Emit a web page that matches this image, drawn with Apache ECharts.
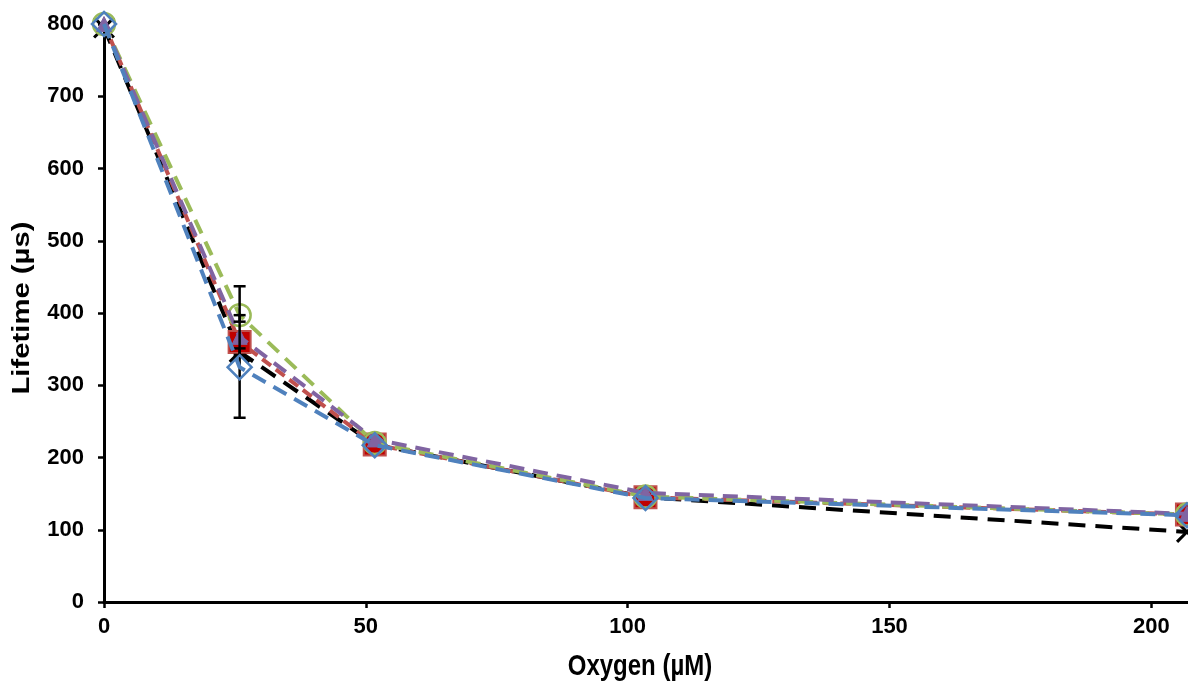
<!DOCTYPE html>
<html>
<head>
<meta charset="utf-8">
<script src="https://cdn.jsdelivr.net/npm/echarts@6/dist/echarts.min.js"></script>
<style>html,body{margin:0;padding:0;background:#fff;}#c{width:1188px;height:685px;}</style>
</head>
<body>
<div id="c"></div>
<script>
const oxygen = [0, 25.9, 51.7, 103.4, 206.8];
const seriesBlack  = [795, 346, 218, 145, 97];
const seriesRed    = [800, 360, 218, 145, 121];
const seriesGreen  = [800, 397, 220, 146, 121];
const seriesPurple = [800, 367, 225, 151, 122];
const seriesBlue   = [800, 325, 217, 144, 120];
// error bars: [x, low, high]
const errorBars = [[25.9, 255, 437], [25.9, 388, 397], [25.9, 342, 351]];
const xTicks = [0, 50, 100, 150, 200];
const xName = 'Oxygen (µM)';
const yName = 'Lifetime (µs)';

const FONT = 'Liberation Sans';
const pair = (ys) => oxygen.map((x, i) => [x, ys[i]]);
const xMark = 'path://M0,1L1,0L5,4L9,0L10,1L6,5L10,9L9,10L5,6L1,10L0,9L4,5Z';

const chart = echarts.init(document.getElementById('c'));
chart.setOption({
  animation: false,
  backgroundColor: '#fff',
  grid: { left: 104, right: 0, top: 24, bottom: 83, containLabel: false },
  graphic: [
    { type: 'text', x: 22, y: 308, rotation: Math.PI / 2, scaleX: 1.22, scaleY: 1,
      style: { text: yName, font: 'bold 24px "Liberation Sans"', fill: '#000', align: 'center', verticalAlign: 'middle' } },
    { type: 'text', x: 640, y: 667, scaleX: 1, scaleY: 1.22,
      style: { text: xName, font: 'bold 24px "Liberation Sans"', fill: '#000', align: 'center', verticalAlign: 'middle' } }
  ],
  xAxis: {
    type: 'value', min: 0, max: 207,
    axisLine: { lineStyle: { color: '#000', width: 3 } },
    axisTick: { show: true, length: 6, lineStyle: { color: '#000', width: 2.5 }, customValues: xTicks },
    axisLabel: { fontFamily: FONT, fontWeight: 'bold', fontSize: 22, color: '#000', margin: 14, customValues: xTicks },
    splitLine: { show: false }
  },
  yAxis: {
    type: 'value', min: 0, max: 800, interval: 100,
    axisLine: { show: true, lineStyle: { color: '#000', width: 3 } },
    axisTick: { show: true, length: 6, lineStyle: { color: '#000', width: 2.5 } },
    axisLabel: { fontFamily: FONT, fontWeight: 'bold', fontSize: 22, color: '#000', margin: 20 },
    splitLine: { show: false }
  },
  series: [
    {
      type: 'line', name: 'black', data: pair(seriesBlack), z: 2,
      symbol: xMark, symbolSize: 22,
      itemStyle: { color: '#000' },
      lineStyle: { color: '#000', width: 4, type: [17, 10] }
    },
    {
      type: 'line', name: 'red', z: 3,
      data: pair(seriesRed).map((p, i) => i === 0 ? { value: p, symbol: 'none' } : p),
      symbol: 'rect', symbolSize: 22,
      itemStyle: { color: '#C00000', borderColor: '#C0504D', borderWidth: 2 },
      lineStyle: { color: '#C0504D', width: 4, type: [11, 6] }
    },
    {
      type: 'line', name: 'green', data: pair(seriesGreen), z: 4,
      symbol: 'circle', symbolSize: 22,
      itemStyle: { color: 'rgba(0,0,0,0)', borderColor: '#9BBB59', borderWidth: 2.5 },
      lineStyle: { color: '#9BBB59', width: 4, type: [15, 9] }
    },
    {
      type: 'line', name: 'purple', data: pair(seriesPurple), z: 5,
      symbol: 'triangle', symbolSize: 15,
      itemStyle: { color: '#8064A2', borderColor: '#8064A2', borderWidth: 1 },
      lineStyle: { color: '#8064A2', width: 4, type: [15, 9] }
    },
    {
      type: 'custom', name: 'err', z: 6,
      data: errorBars,
      encode: { x: 0, y: [1, 2] },
      renderItem: function (params, api) {
        const x = api.value(0);
        const lo = api.coord([x, api.value(1)]);
        const hi = api.coord([x, api.value(2)]);
        const hw = 6;
        const st = { stroke: '#000', lineWidth: 2.5 };
        return {
          type: 'group',
          children: [
            { type: 'line', shape: { x1: lo[0], y1: lo[1], x2: hi[0], y2: hi[1] }, style: st },
            { type: 'line', shape: { x1: lo[0] - hw, y1: lo[1], x2: lo[0] + hw, y2: lo[1] }, style: st },
            { type: 'line', shape: { x1: hi[0] - hw, y1: hi[1], x2: hi[0] + hw, y2: hi[1] }, style: st }
          ]
        };
      }
    },
    {
      type: 'line', name: 'blue', data: pair(seriesBlue), z: 7,
      symbol: 'diamond', symbolSize: 24,
      itemStyle: { color: 'rgba(0,0,0,0)', borderColor: '#4F81BD', borderWidth: 2.5 },
      lineStyle: { color: '#4F81BD', width: 4, type: [15, 9] }
    }
  ]
});
</script>
</body>
</html>
